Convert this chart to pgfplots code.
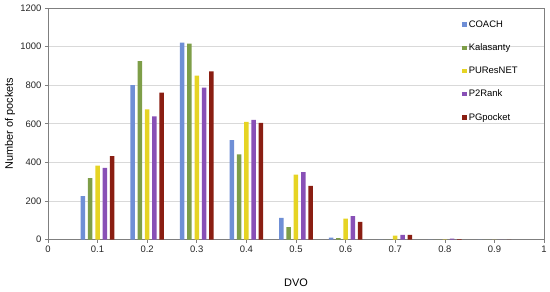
\documentclass[border=0pt]{standalone}
\usepackage{pgfplots}
\usepackage{fontspec}
\setmainfont{Liberation Sans}
\pgfplotsset{compat=1.18}
\definecolor{coach}{HTML}{6F8FD6}
\definecolor{kala}{HTML}{7E9E48}
\definecolor{pures}{HTML}{E6D424}
\definecolor{p2r}{HTML}{8850B6}
\definecolor{pgp}{HTML}{8A1E12}
\definecolor{frame}{HTML}{7F7F7F}

\begin{document}
\begin{tikzpicture}
\begin{axis}[
    scale only axis,
    width=497bp, height=232bp,
    xmin=0, xmax=1, ymin=0, ymax=1200,
    xtick={0,0.1,...,1}, ytick={0,200,...,1200},
    ybar=2.8bp, bar width=4.5bp,
    /pgf/number format/assume math mode=true,
    tick label style={font=\fontsize{9.5}{11}\selectfont, text=black!85},
    xticklabel style={/pgf/number format/fixed},
    yticklabel style={/pgf/number format/set thousands separator={}},
    xlabel={DVO}, ylabel={Number of pockets},
    every axis x label/.style={at={(axis description cs:0.5,-0.185)}, anchor=center,
        font=\fontsize{11}{13}\selectfont},
    every axis y label/.style={at={(axis description cs:-0.0765,0.5)}, anchor=center, rotate=90,
        font=\fontsize{11}{13}\selectfont},
    axis line style={frame, line width=0.8pt},
    tick style={frame, line width=0.6pt},
    tick align=outside, major tick length=3bp,
    xtick pos=bottom, ytick pos=left,
    ymajorgrids, grid style={black!15, line width=0.6pt},
    legend style={at={(0.835,0.955)}, anchor=north west, draw=none, fill=none,
        font=\fontsize{9.5}{11}\selectfont, row sep=11bp, inner sep=0pt,
        legend cell align=left},
    legend image code/.code={\fill[#1] (0bp,-2.2bp) rectangle (4.4bp,2.2bp);},
    every axis plot/.append style={draw=none},
]
\addplot[fill=coach] coordinates {(0.1,225) (0.2,800) (0.3,1020) (0.4,515) (0.5,112) (0.6,10) (0.7,0) (0.8,0) (0.9,0)};
\addlegendentry{COACH}
\addplot[fill=kala] coordinates {(0.1,318) (0.2,925) (0.3,1015) (0.4,442) (0.5,64) (0.6,8) (0.7,0) (0.8,0) (0.9,0)};
\addlegendentry{Kalasanty}
\addplot[fill=pures] coordinates {(0.1,383) (0.2,675) (0.3,850) (0.4,610) (0.5,336) (0.6,108) (0.7,20) (0.8,1) (0.9,0)};
\addlegendentry{PUResNET}
\addplot[fill=p2r] coordinates {(0.1,372) (0.2,638) (0.3,787) (0.4,620) (0.5,350) (0.6,121) (0.7,24) (0.8,5) (0.9,0)};
\addlegendentry{P2Rank}
\addplot[fill=pgp] coordinates {(0.1,432) (0.2,762) (0.3,872) (0.4,605) (0.5,278) (0.6,92) (0.7,24) (0.8,3) (0.9,0)};
\addlegendentry{PGpocket}
\end{axis}
\path ([xshift=-48bp,yshift=-52bp]current axis.south west) rectangle ([xshift=5bp,yshift=8bp]current axis.north east);
\end{tikzpicture}
\end{document}
